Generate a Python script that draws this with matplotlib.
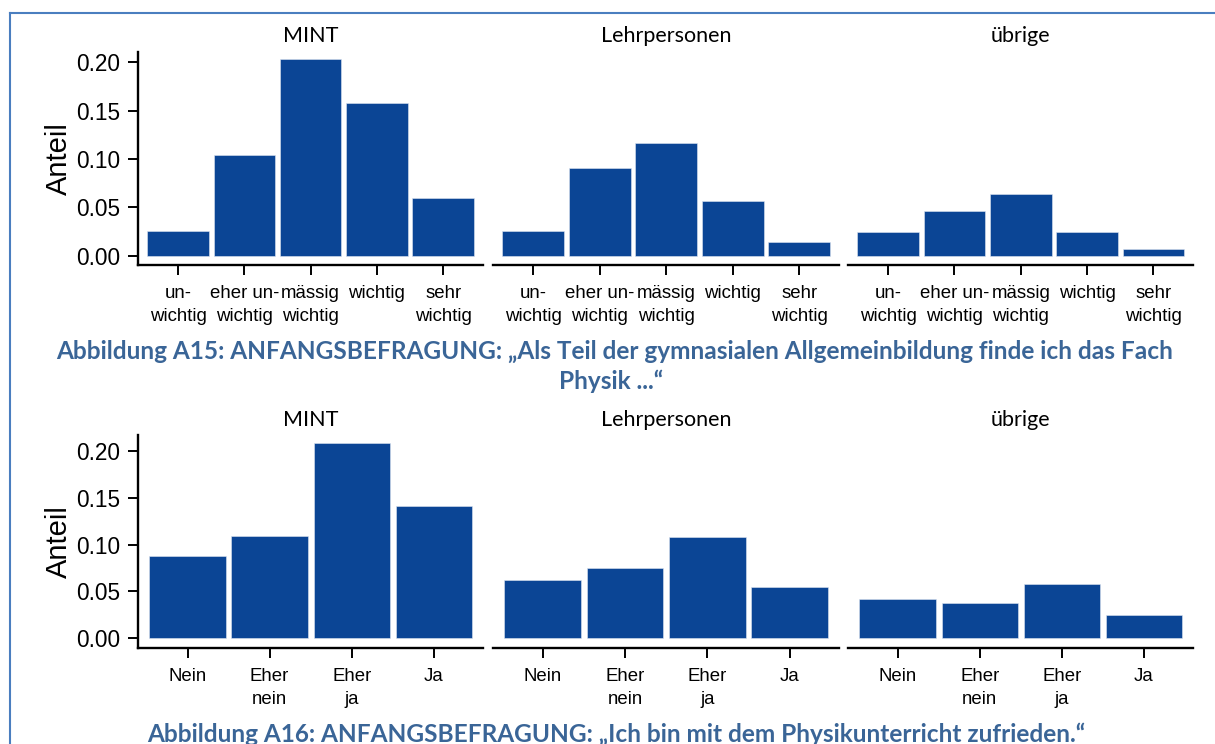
import matplotlib
matplotlib.use('Agg')
import matplotlib.pyplot as plt
import numpy as np
from matplotlib.lines import Line2D

# data

groups = ['MINT', 'Lehrpersonen', 'übrige']

labels_a15 = ['un-\nwichtig', 'eher un-\nwichtig', 'mässig\nwichtig', 'wichtig', 'sehr\nwichtig']
a15_mint = [0.0255, 0.104, 0.203, 0.1576, 0.060]
a15_lehr = [0.0259, 0.0904, 0.1162, 0.0563, 0.0145]
a15_uebrige = [0.0248, 0.0462, 0.0641, 0.0242, 0.0066]

labels_a16 = ['Nein', 'Eher\nnein', 'Eher\nja', 'Ja']
a16_mint = [0.0879, 0.1096, 0.2082, 0.1413]
a16_lehr = [0.0619, 0.0751, 0.1082, 0.0548]
a16_uebrige = [0.042, 0.0374, 0.0577, 0.0246]

caption_a15 = ['Abbildung A15: ANFANGSBEFRAGUNG: \u201eAls Teil der gymnasialen Allgemeinbildung finde ich das Fach',
               'Physik ...\u201c']
caption_a16 = 'Abbildung A16: ANFANGSBEFRAGUNG: \u201eIch bin mit dem Physikunterricht zufrieden.\u201c'

W, H = 1215, 744
bar_color = '#0b4595'
cap_color = '#3a6597'
frame_color = '#4a7ebf'

plt.rcParams['font.family'] = ['Liberation Sans', 'DejaVu Sans']

fig = plt.figure(figsize=(W/100, H/100), dpi=100)

# panel left/right edges in pixels
panel_x = [(138.3, 483), (493.3, 839), (848.3, 1193.3)]


def draw_row(rows, cats, top_px, bottom_px, ylim, title_base):
    x = np.arange(len(cats))
    for i, (name, vals) in enumerate(zip(groups, rows)):
        l, r = panel_x[i]
        ax = fig.add_axes([l/W, 1-bottom_px/H, (r-l)/W, (bottom_px-top_px)/H])
        ax.bar(x, vals, width=0.93, color=bar_color, edgecolor='#dfe6f2', linewidth=0.4)
        ax.set_xlim(-0.6, len(cats)-0.4)
        ax.set_ylim(ylim)
        ax.set_xticks(x)
        ax.set_xticklabels(cats, fontsize=13.4, linespacing=1.42)
        ax.set_yticks([0, 0.05, 0.10, 0.15, 0.20])
        ax.set_yticklabels(['0.00', '0.05', '0.10', '0.15', '0.20'], fontsize=16.3)
        ax.tick_params(axis='both', length=7, width=1.4, color='black', pad=6)
        ax.tick_params(axis='x', pad=7.5)
        for s in ['top', 'right']:
            ax.spines[s].set_visible(False)
        ax.spines['bottom'].set_linewidth(1.7)
        ax.spines['left'].set_linewidth(1.7)
        if i == 0:
            ax.set_ylabel('Anteil', fontsize=21)
            ax.yaxis.set_label_coords(-0.19, 0.5)
        else:
            ax.spines['left'].set_visible(False)
            ax.tick_params(axis='y', left=False, labelleft=False)
        fig.text((l+r)/2/W, 1-title_base/H, name, ha='center', va='baseline',
                 fontsize=15.5, family='Lato')


draw_row([a15_mint, a15_lehr, a15_uebrige], labels_a15, 51.7, 265, (-0.0096, 0.211), 41.7)
draw_row([a16_mint, a16_lehr, a16_uebrige], labels_a16, 435, 648.3, (-0.0107, 0.2171), 426)

# captions
fig.text(615/W, 1-359/H, caption_a15[0], ha='center', va='baseline', color=cap_color,
         fontsize=17.6, weight='bold', family='Lato')
fig.text(611/W, 1-389/H, caption_a15[1], ha='center', va='baseline', color=cap_color,
         fontsize=17.6, weight='bold', family='Lato')
fig.text(616/W, 1-742/H, caption_a16, ha='center', va='baseline', color=cap_color,
         fontsize=17.6, weight='bold', family='Lato')

# page frame lines (left and top)
fig.add_artist(Line2D([10/W, 10/W], [0, 1-12.7/H], transform=fig.transFigure, color=frame_color, lw=1.5))
fig.add_artist(Line2D([10/W, 1], [1-12.7/H, 1-12.7/H], transform=fig.transFigure, color=frame_color, lw=1.5))

fig.savefig('out.png', dpi=100)
